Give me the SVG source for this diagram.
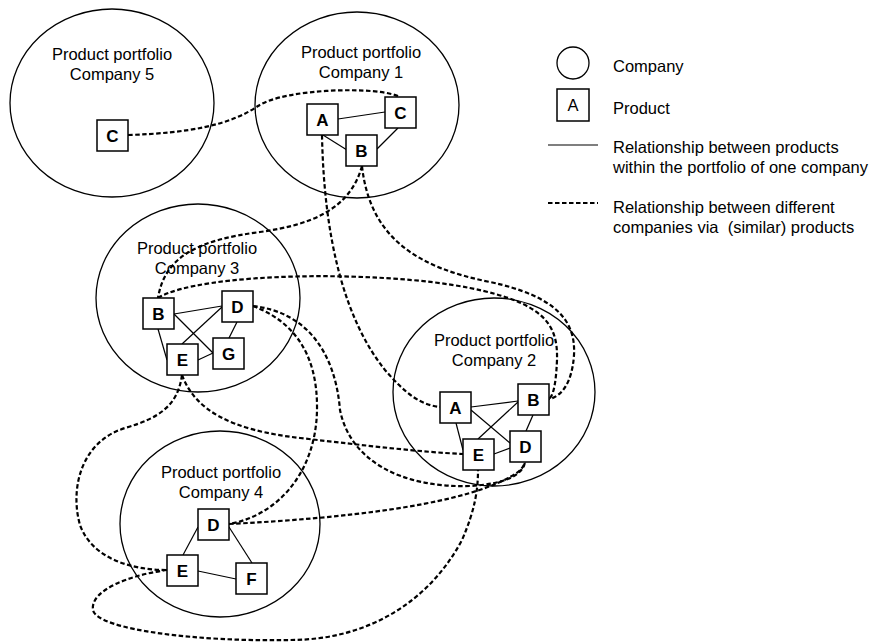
<svg xmlns="http://www.w3.org/2000/svg" width="869" height="643" viewBox="0 0 869 643">
<style>
.co{fill:none;stroke:#000;stroke-width:1.3}
.pb{fill:#fff;stroke:#000;stroke-width:1.5}
.pl{font-family:"Liberation Sans",Arial,sans-serif;font-size:17px;font-weight:bold;text-anchor:middle}
.tt{font-family:"Liberation Sans",Arial,sans-serif;font-size:16.5px;text-anchor:middle}
.lg{font-family:"Liberation Sans",Arial,sans-serif;font-size:16.5px;white-space:pre}
.in{fill:none;stroke:#000;stroke-width:1.2}
.ex{fill:none;stroke:#000;stroke-width:2.2;stroke-dasharray:4.5 2.5}
</style>
<rect width="869" height="643" fill="#fff"/>
<g id="companies">
<g id="company5"><ellipse class="co" cx="112" cy="103" rx="102" ry="94"/><text class="tt" x="112" y="60">Product portfolio</text><text class="tt" x="112" y="80">Company 5</text></g>
<g id="company1"><ellipse class="co" cx="357" cy="105" rx="102" ry="93"/><text class="tt" x="361" y="58">Product portfolio</text><text class="tt" x="361" y="78">Company 1</text></g>
<g id="company3"><ellipse class="co" cx="198" cy="298" rx="102" ry="94"/><text class="tt" x="197" y="254">Product portfolio</text><text class="tt" x="197" y="274">Company 3</text></g>
<g id="company2"><ellipse class="co" cx="494" cy="392" rx="101" ry="94"/><text class="tt" x="494" y="346">Product portfolio</text><text class="tt" x="494" y="366">Company 2</text></g>
<g id="company4"><ellipse class="co" cx="220" cy="524" rx="100" ry="93"/><text class="tt" x="221" y="478">Product portfolio</text><text class="tt" x="221" y="498">Company 4</text></g>
</g>
<g id="connectors">
<g id="within">
<line class="in" x1="338" y1="119" x2="385" y2="112"/>
<line class="in" x1="323" y1="135" x2="347" y2="150"/>
<line class="in" x1="377" y1="149" x2="398" y2="128"/>
<line class="in" x1="174" y1="314" x2="222" y2="306"/>
<line class="in" x1="174" y1="314" x2="213" y2="353"/>
<line class="in" x1="158" y1="329" x2="167" y2="360"/>
<line class="in" x1="182" y1="344" x2="222" y2="307"/>
<line class="in" x1="198" y1="360" x2="213" y2="353"/>
<line class="in" x1="237" y1="322" x2="229" y2="338"/>
<line class="in" x1="471" y1="407" x2="518" y2="401"/>
<line class="in" x1="471" y1="410" x2="510" y2="443"/>
<line class="in" x1="456" y1="423" x2="463" y2="450"/>
<line class="in" x1="478" y1="439" x2="518" y2="402"/>
<line class="in" x1="494" y1="454" x2="510" y2="448"/>
<line class="in" x1="533" y1="415" x2="526" y2="431"/>
<line class="in" x1="198" y1="527" x2="183" y2="555"/>
<line class="in" x1="229" y1="527" x2="252" y2="563"/>
<line class="in" x1="198" y1="571" x2="236" y2="579"/>
</g>
<g id="between">
<path class="ex" d="M128,135 C190,133 230,125 258,106 C285,88 380,86 400,97"/>
<path class="ex" d="M322,135 C324,240 345,320 385,370 C405,393 420,405 440,407"/>
<path class="ex" d="M362,166 C350,210 310,225 260,232 C200,240 165,255 158,298"/>
<path class="ex" d="M362,166 C370,240 420,268 490,282 C555,296 576,320 574,355 C572,385 560,397 549,399"/>
<path class="ex" d="M158,298 C200,272 380,270 470,288 C545,303 558,325 557,360 C556,385 553,396 549,399"/>
<path class="ex" d="M253,306 C290,320 318,350 317,410 C316,470 280,515 229,524"/>
<path class="ex" d="M253,306 C305,312 335,350 340,410 C350,460 400,488 470,486 C505,484 523,475 525,462"/>
<path class="ex" d="M229,524 C350,518 450,505 500,482 C515,475 523,470 525,462"/>
<path class="ex" d="M182,375 C195,410 230,430 300,438 C370,446 420,452 463,454"/>
<path class="ex" d="M182,375 C178,405 160,418 125,428 C80,442 70,490 80,525 C92,558 130,570 167,570"/>
<path class="ex" d="M167,570 C130,575 90,590 93,610 C97,630 200,642 290,640 C370,640 430,600 462,540 C475,510 478,490 478,470"/>
</g>
</g>
<g id="products">
<g id="c5-C"><rect class="pb" x="97" y="120" width="31" height="31"/><text class="pl" x="112.5" y="142">C</text></g>
<g id="c1-A"><rect class="pb" x="307" y="104" width="31" height="31"/><text class="pl" x="322.5" y="126">A</text></g>
<g id="c1-B"><rect class="pb" x="346" y="135" width="31" height="31"/><text class="pl" x="361.5" y="157">B</text></g>
<g id="c1-C"><rect class="pb" x="385" y="97" width="31" height="31"/><text class="pl" x="400.5" y="119">C</text></g>
<g id="c3-B"><rect class="pb" x="143" y="298" width="31" height="31"/><text class="pl" x="158.5" y="320">B</text></g>
<g id="c3-D"><rect class="pb" x="222" y="291" width="31" height="31"/><text class="pl" x="237.5" y="313">D</text></g>
<g id="c3-E"><rect class="pb" x="167" y="344" width="31" height="31"/><text class="pl" x="182.5" y="366">E</text></g>
<g id="c3-G"><rect class="pb" x="213" y="338" width="31" height="31"/><text class="pl" x="228.5" y="360">G</text></g>
<g id="c2-A"><rect class="pb" x="440" y="392" width="31" height="31"/><text class="pl" x="455.5" y="414">A</text></g>
<g id="c2-B"><rect class="pb" x="518" y="384" width="31" height="31"/><text class="pl" x="533.5" y="406">B</text></g>
<g id="c2-E"><rect class="pb" x="463" y="439" width="31" height="31"/><text class="pl" x="478.5" y="461">E</text></g>
<g id="c2-D"><rect class="pb" x="510" y="431" width="31" height="31"/><text class="pl" x="525.5" y="453">D</text></g>
<g id="c4-D"><rect class="pb" x="198" y="509" width="31" height="31"/><text class="pl" x="213.5" y="531">D</text></g>
<g id="c4-E"><rect class="pb" x="167" y="555" width="31" height="31"/><text class="pl" x="182.5" y="577">E</text></g>
<g id="c4-F"><rect class="pb" x="236" y="563" width="31" height="31"/><text class="pl" x="251.5" y="585">F</text></g>
</g>
<g id="legend">
<circle class="co" cx="573" cy="63" r="16"/>
<text class="lg" x="613" y="72">Company</text>
<rect class="pb" x="557" y="89" width="32" height="32"/>
<text class="tt" x="573" y="111">A</text>
<text class="lg" x="613" y="114">Product</text>
<line class="in" x1="548" y1="145" x2="598" y2="145"/>
<text class="lg" x="613" y="153">Relationship between products</text>
<text class="lg" x="613" y="173">within the portfolio of one company</text>
<line class="ex" x1="548" y1="203" x2="598" y2="203"/>
<text class="lg" x="613" y="213">Relationship between different</text>
<text class="lg" x="613" y="233" xml:space="preserve">companies via  (similar) products</text>
</g>
</svg>
